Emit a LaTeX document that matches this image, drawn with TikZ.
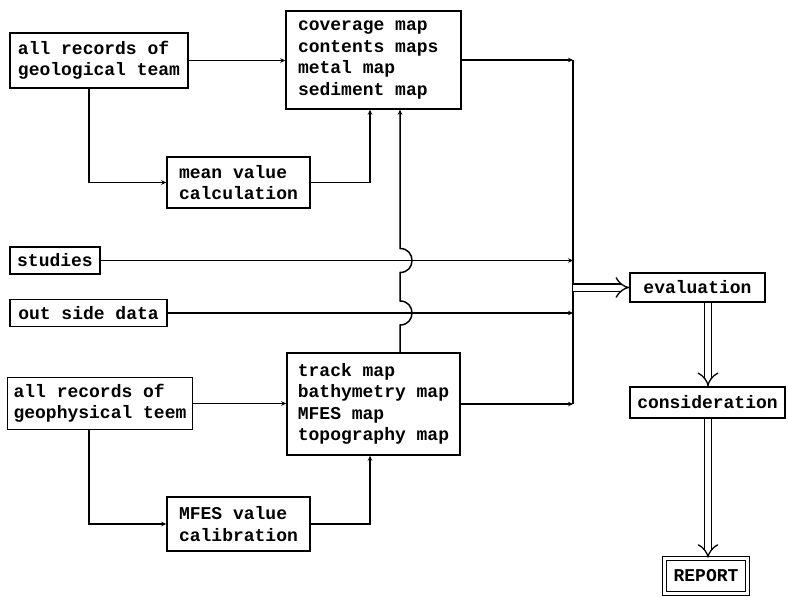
\documentclass[tikz,border=0pt]{standalone}
\usepackage{fontspec}
\setmonofont{Liberation Mono}
\usetikzlibrary{arrows.meta}
\begin{document}
\begin{tikzpicture}[x=1pt,y=-1pt,
  txt/.style={font=\fontsize{18}{21.5}\selectfont\ttfamily\bfseries, execute at begin node={\spaceskip=10.8pt\relax}},
  box/.style={txt, draw, line width=1.5pt, inner xsep=6pt, inner ysep=2pt, align=left},
  conn/.style={line width=1.5pt},
  arr/.style={conn, -{Stealth[length=5pt,width=4.5pt]}},
  dbl/.style={line width=1.3pt, double, double distance=6pt, -{Implies}},
]
\useasboundingbox (0,0) rectangle (788,597);
% boxes
\node[box, minimum width=178pt, minimum height=55pt] (geo) at (99,60.5) {all records of\\geological team};
\node[box, inner xsep=12pt, text width=151pt, minimum height=98pt] (maps) at (373.5,60) {coverage map\\contents maps\\metal map\\sediment map};
\node[box, minimum width=143pt, minimum height=51pt] (mean) at (238.5,182.5) {mean value\\calculation};
\node[box, minimum width=90pt, minimum height=27pt] (studies) at (55,260.5) {studies};
\node[box, minimum width=157pt, minimum height=27pt] (outside) at (88.5,313) {out side data};
\node[box, minimum width=173pt, minimum height=102pt] (track) at (373.5,404) {track map\\bathymetry map\\MFES map\\topography map};
\node[box, minimum width=180pt, minimum height=52pt] (geophys) at (100,403.5) {all records of\\geophysical teem};
\node[box, minimum width=143pt, minimum height=54pt] (mfes) at (238.5,524) {MFES value\\calibration};
\node[box, minimum width=135pt, minimum height=29pt] (eval) at (697.5,287.5) {evaluation};
\node[box, minimum width=155pt, minimum height=31pt] (consid) at (707.5,402.5) {consideration};
\node[txt, draw, double, double distance=2.5pt, line width=1.3pt, minimum width=83pt, minimum height=35pt, inner sep=2pt] (report) at (706,576) {REPORT};
% helper coordinates
\coordinate (bus) at (573,0);
\coordinate (jx) at (400,0);
\coordinate (dx) at (708,0);
% geological branch
\draw[arr] (geo.east) -- (geo.east -| maps.west);
\draw[arr] ([xshift=-10pt]geo.south) |- (mean.west);
\draw[arr] (mean.east) -| ([xshift=-3.5pt]maps.south);
% geophysical branch
\draw[arr] (geophys.east) -- (geophys.east -| track.west);
\draw[arr] ([xshift=-11pt]geophys.south) |- (mfes.west);
\draw[arr] (mfes.east) -| ([xshift=-3.5pt]track.south);
% track -> maps with jumps
\draw[arr] (track.north -| jx)
  -- ([yshift=-12pt]jx |- outside.east) .. controls +(16,0) and +(16,0) .. ([yshift=12pt]jx |- outside.east)
  -- ([yshift=-12pt]jx |- studies.east) .. controls +(16,0) and +(16,0) .. ([yshift=12pt]jx |- studies.east)
  -- (maps.south -| jx);
% bus to evaluation
\draw[conn] (maps.east -| bus) -- (track.east -| bus);
\draw[arr] (maps.east) -- (maps.east -| bus);
\draw[arr] (track.east) -- (track.east -| bus);
\draw[arr] (studies.east) -- (studies.east -| bus);
\draw[arr] (outside.east) -- (outside.east -| bus);
\draw[dbl] (eval.west -| bus) -- (eval.west);
\draw[dbl] (eval.south -| dx) -- (consid.north -| dx);
\draw[dbl] (consid.south -| dx) -- (report.north -| dx);
\end{tikzpicture}
\end{document}
